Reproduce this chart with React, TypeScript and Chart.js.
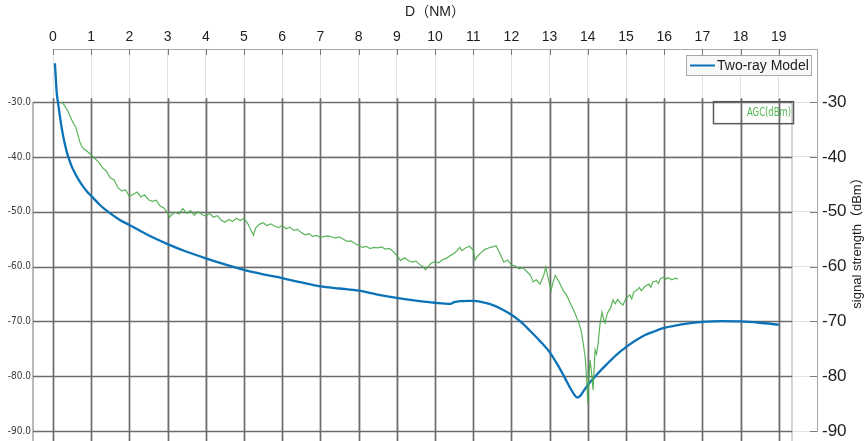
import React, { useEffect, useRef } from 'react';
import { Chart, registerables } from 'chart.js';

Chart.register(...registerables);

// ---- data ----
const distanceTicks = [0, 1, 2, 3, 4, 5, 6, 7, 8, 9, 10, 11, 12, 13, 14, 15, 16, 17, 18, 19];
const strengthTicks = [-90, -80, -70, -60, -50, -40, -30];

const xTitle = 'D（NM）';
const yTitle = 'signal strength（dBm）';
const modelLabel = 'Two-ray Model';
const agcLabel = 'AGC(dBm)';

const modelD = [
  0.05, 0.1, 0.13, 0.15, 0.2, 0.25, 0.3, 0.35, 0.4, 0.45, 0.5, 0.6, 0.7, 0.8, 0.9, 1.0, 1.25, 1.5, 1.75,
  2.0, 2.5, 3.0, 3.5, 4.0, 4.5, 5.0, 5.5, 6.0, 6.5, 7.0, 7.5, 8.0, 8.5, 9.0, 9.5, 10.0, 10.4, 10.5, 10.7,
  10.9, 11.1, 11.3, 11.5, 11.75, 12.0, 12.25, 12.5, 12.75, 13.0, 13.2, 13.4, 13.55, 13.65, 13.72, 13.8,
  13.9, 14.0, 14.25, 14.5, 14.75, 15.0, 15.25, 15.5, 15.75, 16.0, 16.5, 17.0, 17.5, 18.0, 18.5, 19.0,
];
const modelDbm = [
  -22.9, -28.5, -30.0, -31.0, -33.5, -35.6, -37.3, -38.8, -40.0, -41.0, -41.9, -43.3, -44.5, -45.5, -46.4,
  -47.1, -48.9, -50.3, -51.5, -52.4, -54.3, -55.9, -57.3, -58.5, -59.6, -60.6, -61.4, -62.1, -62.9, -63.6,
  -64.0, -64.4, -65.1, -65.7, -66.2, -66.6, -66.8, -66.5, -66.3, -66.25, -66.3, -66.6, -67.0, -67.8, -68.8,
  -70.1, -71.8, -73.6, -75.6, -77.8, -80.3, -82.3, -83.4, -83.9, -83.6, -82.6, -81.6, -79.6, -77.8, -76.1,
  -74.7, -73.5, -72.5, -71.8, -71.2, -70.5, -70.1, -69.95, -70.0, -70.25, -70.6,
];

const agcD = [
  0.22, 0.3, 0.4, 0.5, 0.6, 0.7, 0.75, 0.8, 0.9, 1.0, 1.1, 1.2, 1.3, 1.4, 1.5, 1.6, 1.7, 1.8, 1.9, 2.0,
  2.1, 2.2, 2.3, 2.4, 2.5, 2.6, 2.7, 2.8, 2.9, 3.0, 3.05, 3.1, 3.2, 3.3, 3.4, 3.5, 3.6, 3.7, 3.8, 3.9,
  4.0, 4.1, 4.2, 4.3, 4.4, 4.5, 4.6, 4.7, 4.8, 4.9, 5.0, 5.1, 5.2, 5.25, 5.3, 5.4, 5.5, 5.6, 5.7, 5.8,
  5.9, 6.0, 6.1, 6.2, 6.3, 6.4, 6.5, 6.6, 6.7, 6.8, 6.9, 7.0, 7.1, 7.2, 7.3, 7.4, 7.5, 7.6, 7.7, 7.8,
  7.9, 8.0, 8.1, 8.2, 8.3, 8.4, 8.5, 8.6, 8.7, 8.8, 8.9, 9.0, 9.1, 9.2, 9.3, 9.4, 9.5, 9.6, 9.7, 9.75,
  9.8, 9.9, 10.0, 10.1, 10.2, 10.3, 10.4, 10.5, 10.6, 10.65, 10.7, 10.8, 10.9, 11.0, 11.05, 11.1, 11.2,
  11.3, 11.4, 11.5, 11.6, 11.7, 11.8, 11.9, 12.0, 12.1, 12.2, 12.3, 12.4, 12.5, 12.57, 12.65, 12.75,
  12.85, 12.9, 12.95, 13.04, 13.1, 13.15, 13.25, 13.35, 13.45, 13.55, 13.65, 13.75, 13.82, 13.88, 13.93,
  13.97, 14.0, 14.03, 14.06, 14.1, 14.14, 14.19, 14.23, 14.27, 14.32, 14.37, 14.42, 14.45, 14.5, 14.53,
  14.6, 14.66, 14.72, 14.78, 14.85, 14.92, 15.0, 15.1, 15.15, 15.2, 15.3, 15.35, 15.4, 15.5, 15.6, 15.65,
  15.7, 15.8, 15.85, 15.9, 16.0, 16.05, 16.1, 16.2, 16.3, 16.36,
];
const agcDbm = [
  -30.0, -30.6, -31.8, -33.4, -34.6, -37.2, -38.0, -38.5, -39.0, -39.6, -40.3, -41.0, -42.0, -42.6, -43.8,
  -44.2, -45.6, -46.2, -46.0, -47.2, -46.8, -46.4, -47.3, -46.9, -47.8, -48.1, -47.9, -48.9, -49.3, -50.2,
  -51.0, -50.6, -50.1, -50.4, -49.4, -50.3, -49.8, -50.6, -50.0, -50.5, -50.8, -50.3, -51.0, -50.7, -51.5,
  -51.9, -51.4, -51.8, -51.2, -51.6, -51.2, -52.2, -53.6, -54.3, -53.0, -52.3, -52.0, -52.5, -52.2, -52.6,
  -52.9, -52.5, -53.1, -52.8, -53.4, -53.2, -53.8, -54.2, -54.0, -54.5, -54.3, -54.7, -54.5, -54.4, -54.6,
  -54.8, -54.6, -55.0, -55.4, -55.3, -55.8, -56.1, -56.5, -56.3, -56.7, -56.5, -56.6, -56.4, -56.8, -56.7,
  -57.2, -58.0, -58.9, -58.4, -58.9, -59.2, -59.0, -59.6, -60.1, -60.6, -60.2, -59.4, -59.1, -59.3, -58.7,
  -58.5, -58.0, -57.6, -56.9, -56.5, -57.1, -56.6, -56.3, -57.0, -58.8, -58.2, -57.5, -56.9, -56.6, -56.4,
  -56.2, -57.6, -59.2, -58.8, -59.7, -59.9, -60.4, -60.2, -60.9, -61.6, -62.8, -62.4, -63.2, -61.5, -60.1,
  -61.8, -64.3, -62.6, -61.6, -62.8, -64.3, -65.3, -66.8, -68.3, -70.0, -71.5, -74.0, -76.4, -80.5, -84.9,
  -80.0, -77.0, -79.5, -82.5, -75.2, -76.0, -74.0, -70.5, -68.3, -69.8, -70.3, -68.8, -68.3, -67.5, -66.1,
  -66.8, -66.0, -66.6, -67.0, -65.8, -65.2, -65.9, -64.7, -64.2, -63.8, -64.4, -63.6, -63.2, -63.8, -62.8,
  -62.6, -63.1, -62.2, -61.9, -62.3, -62.0, -62.4, -62.1, -62.3,
];

const FONT = "'Liberation Sans', Arial, Helvetica, 'Noto Sans CJK SC', sans-serif";
const NARROW = "'DejaVu Sans Condensed', 'Liberation Sans Narrow', 'Liberation Sans', sans-serif";
const BLUE = '#0b72b8';
const GREEN = 'rgba(72,172,72,0.9)';

const overlayPlugin = {
  id: 'overlay',
  beforeDatasetsDraw(chart: any) {
    const { ctx, chartArea: ca, scales } = chart;
    const x = scales.x;
    const y = scales.y;
    const y30 = y.getPixelForValue(-30);
    const imgTop = y30 - 4;
    const imgLeft = ca.left - 20;
    const imgRight = ca.right - 25;
    const bottom = chart.height;
    ctx.save();
    ctx.strokeStyle = '#8a8a8a';
    ctx.lineWidth = 1.2;
    ctx.beginPath();
    ctx.moveTo(imgLeft, y30);
    ctx.lineTo(imgLeft, bottom);
    ctx.stroke();
    ctx.strokeStyle = '#b8b8b8';
    ctx.beginPath();
    ctx.moveTo(imgRight, y30);
    ctx.lineTo(imgRight, bottom);
    ctx.stroke();
    ctx.strokeStyle = '#6c6c6c';
    ctx.lineWidth = 1.7;
    distanceTicks.forEach((d) => {
      const px = Math.round(x.getPixelForValue(d)) + 0.5;
      ctx.beginPath();
      ctx.moveTo(px, imgTop);
      ctx.lineTo(px, bottom);
      ctx.stroke();
    });
    strengthTicks.forEach((s) => {
      const py = Math.round(y.getPixelForValue(s)) + 0.5;
      ctx.beginPath();
      ctx.moveTo(imgLeft, py);
      ctx.lineTo(imgRight, py);
      ctx.stroke();
    });
    ctx.restore();
  },
  afterDatasetsDraw(chart: any) {
    const { ctx, chartArea: ca, scales } = chart;
    const x = scales.x;
    const y = scales.y;
    ctx.save();
    ctx.strokeStyle = '#7a7a7a';
    ctx.lineWidth = 1;
    distanceTicks.forEach((d) => {
      const px = Math.round(x.getPixelForValue(d)) + 0.5;
      ctx.beginPath();
      ctx.moveTo(px, ca.top);
      ctx.lineTo(px, ca.top + 6);
      ctx.stroke();
    });
    strengthTicks.forEach((s) => {
      const py = Math.round(y.getPixelForValue(s)) + 0.5;
      ctx.beginPath();
      ctx.moveTo(ca.right - 7, py);
      ctx.lineTo(ca.right, py);
      ctx.stroke();
    });

    // legend 1: Two-ray Model
    const lw = 125, lh = 20;
    const lx = ca.right - 6 - lw;
    const ly = ca.top + 6;
    ctx.fillStyle = '#f8f8f8';
    ctx.fillRect(lx, ly, lw, lh);
    ctx.strokeStyle = '#a8a8a8';
    ctx.lineWidth = 1;
    ctx.strokeRect(lx + 0.5, ly + 0.5, lw, lh);
    ctx.strokeStyle = BLUE;
    ctx.lineWidth = 2;
    ctx.beginPath();
    ctx.moveTo(lx + 4, ly + lh / 2 + 0.5);
    ctx.lineTo(lx + 29, ly + lh / 2 + 0.5);
    ctx.stroke();
    ctx.fillStyle = '#1e1e1e';
    ctx.font = `14px ${FONT}`;
    ctx.textAlign = 'left';
    ctx.textBaseline = 'middle';
    ctx.fillText(chart.data.datasets[0].label, lx + 31, ly + lh / 2 + 1);

    // legend 2: AGC box (from embedded image)
    const bx = ca.left + 660;
    const by = y.getPixelForValue(-30) - 1;
    const bw = 80, bh = 22;
    ctx.strokeStyle = '#5a5a5a';
    ctx.lineWidth = 1.5;
    ctx.strokeRect(bx + 0.5, by + 0.5, bw, bh);
    ctx.fillStyle = 'rgba(70,180,70,0.95)';
    ctx.font = `12px ${NARROW}`;
    const txt = chart.data.datasets[1].label;
    const tw = ctx.measureText(txt).width;
    const target = 44;
    ctx.translate(bx + bw - 2 - target, by + bh / 2 + 1);
    ctx.scale(target / tw, 1);
    ctx.textAlign = 'left';
    ctx.fillText(txt, 0, 0);
    ctx.restore();

    // right axis title (reads bottom to top)
    ctx.save();
    ctx.translate(857, (ca.top + ca.bottom) / 2);
    ctx.rotate(-Math.PI / 2);
    ctx.fillStyle = '#1e1e1e';
    ctx.font = `13px ${FONT}`;
    ctx.textAlign = 'center';
    ctx.textBaseline = 'middle';
    ctx.fillText(yTitle, 0, 0);
    ctx.restore();
  },
};

export default function App() {
  const ref = useRef<HTMLCanvasElement | null>(null);

  useEffect(() => {
    document.body.style.margin = '0';
    document.body.style.overflow = 'hidden';
    const canvas = ref.current;
    if (!canvas) return;
    const tickList = (vals: number[]) => (s: any) => {
      s.ticks = vals.map((v) => ({ value: v }));
    };
    const fixV = (w: number) => (s: any) => {
      s.width = w;
      s.paddingTop = 0;
      s.paddingBottom = 0;
    };
    const chart = new Chart(canvas, {
      type: 'line',
      data: {
        datasets: [
          {
            label: modelLabel,
            data: modelD.map((d, i) => ({ x: d, y: modelDbm[i] })),
            borderColor: BLUE,
            backgroundColor: BLUE,
            borderWidth: 2.3,
            pointRadius: 0,
            cubicInterpolationMode: 'monotone',
            xAxisID: 'x',
            yAxisID: 'y',
            order: 2,
          },
          {
            label: agcLabel,
            data: agcD.map((d, i) => ({ x: d, y: agcDbm[i] })),
            borderColor: GREEN,
            backgroundColor: GREEN,
            borderWidth: 1.2,
            pointRadius: 0,
            tension: 0,
            xAxisID: 'x',
            yAxisID: 'y',
            order: 1,
          },
        ],
      },
      options: {
        animation: false,
        responsive: true,
        maintainAspectRatio: false,
        devicePixelRatio: 1,
        layout: { padding: { left: 0, right: 0, top: 0, bottom: 10 } },
        plugins: { legend: { display: false }, tooltip: { enabled: false } },
        scales: {
          x: {
            type: 'linear',
            position: 'top',
            min: 0,
            max: 20,
            afterBuildTicks: tickList(distanceTicks),
            afterFit: (s: any) => {
              s.height = 49;
              s.paddingLeft = 0;
              s.paddingRight = 0;
            },
            ticks: {
              autoSkip: false,
              maxRotation: 0,
              padding: 3,
              color: '#1e1e1e',
              font: { size: 14, family: FONT },
            },
            grid: { color: '#e2e2e2', lineWidth: 1, drawTicks: false },
            border: { color: '#a8a8a8' },
            title: {
              display: true,
              text: xTitle,
              color: '#1e1e1e',
              font: { size: 14, family: FONT },
              padding: { top: 4, bottom: 0 },
            },
          },
          y: {
            type: 'linear',
            position: 'right',
            min: -90,
            max: -20.3,
            afterBuildTicks: tickList(strengthTicks),
            afterFit: fixV(48),
            ticks: {
              padding: 0,
              color: '#1e1e1e',
              font: { size: 17, family: FONT },
            },
            grid: {
              color: '#e2e2e2',
              lineWidth: 1,
              drawTicks: true,
              tickLength: 5,
              tickColor: 'rgba(0,0,0,0)',
            },
            border: { color: '#a8a8a8' },
          },
          yL: {
            type: 'linear',
            position: 'left',
            min: -90,
            max: -20.3,
            afterBuildTicks: tickList(strengthTicks),
            afterFit: fixV(53),
            ticks: {
              padding: 2,
              color: '#3a3a3a',
              font: { size: 10, family: NARROW },
              callback: (v: any) => Number(v).toFixed(1),
            },
            grid: {
              display: true,
              drawOnChartArea: false,
              drawTicks: true,
              tickLength: 20,
              color: 'rgba(0,0,0,0)',
            },
            border: { display: false },
          },
        },
      },
      plugins: [overlayPlugin],
    } as any);
    return () => chart.destroy();
  }, []);

  return (
    <div style={{ width: 865, height: 441, position: 'relative' }}>
      <canvas ref={ref} />
    </div>
  );
}
